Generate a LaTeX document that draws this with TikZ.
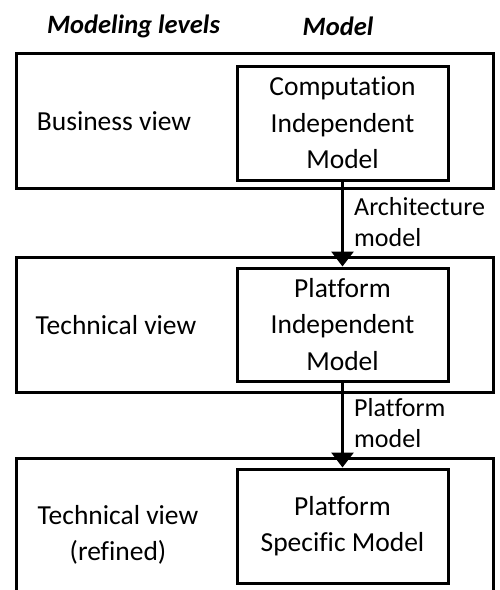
\documentclass[tikz,border=0pt]{standalone}
\usepackage{fontspec}
\setmainfont[Ligatures=NoCommon, RawFeature=-liga]{Carlito}
\usetikzlibrary{arrows.meta}
\tikzset{
  level/.style={draw, line width=3pt, minimum width=477pt, minimum height=135pt, inner sep=0pt},
  modelbox/.style={draw, line width=3pt, minimum width=211pt, inner sep=0pt, align=center,
    font=\fontsize{27.5}{36.5}\selectfont},
  viewtext/.style={align=center, inner sep=0pt, font=\fontsize{27.5}{36}\selectfont},
  heading/.style={inner sep=0pt, font=\fontsize{26.5}{30}\selectfont\bfseries\itshape},
  steplabel/.style={anchor=west, align=left, inner sep=0pt, font=\fontsize{26}{31}\selectfont},
  flow/.style={line width=3pt, -{Triangle[width=22pt,length=15pt]}}
}
\begin{document}
\begin{tikzpicture}[x=1pt, y=-1pt]
\useasboundingbox (0,0) rectangle (500,590);
\clip (0,0) rectangle (500,590);

% column headings
\node[heading] (hlev) at (133.5,26) {Modeling levels};
\node[heading] (hmod) at (338,26) {Model};

% modeling levels
\node[level] (lev1) at (254.5,120.5) {};
\node[level] (lev2) at (254.5,324.5) {};
\node[level] (lev3) at (254.5,525.5) {};

\node[viewtext] (v1) at (114,121) {Business view};
\node[viewtext] (v2) at (116,325) {Technical view};
\node[viewtext] (v3) at (118,535) {Technical view\\(refined)};

% models
\node[modelbox, minimum height=114pt] (cim) at (342.5,123) {Computation\\Independent\\Model};
\node[modelbox, minimum height=113pt] (pim) at (342.5,324.5) {Platform\\Independent\\Model};
\node[modelbox, minimum height=114pt] (psm) at (342.5,526) {Platform\\Specific Model};

% transformations
\draw[flow] (cim.south) -- (pim.north);
\draw[flow] (pim.south) -- (psm.north);

\node[steplabel] (l1) at (354,222) {Architecture\\model};
\node[steplabel] (l2) at (354,423) {Platform\\model};
\end{tikzpicture}
\end{document}
